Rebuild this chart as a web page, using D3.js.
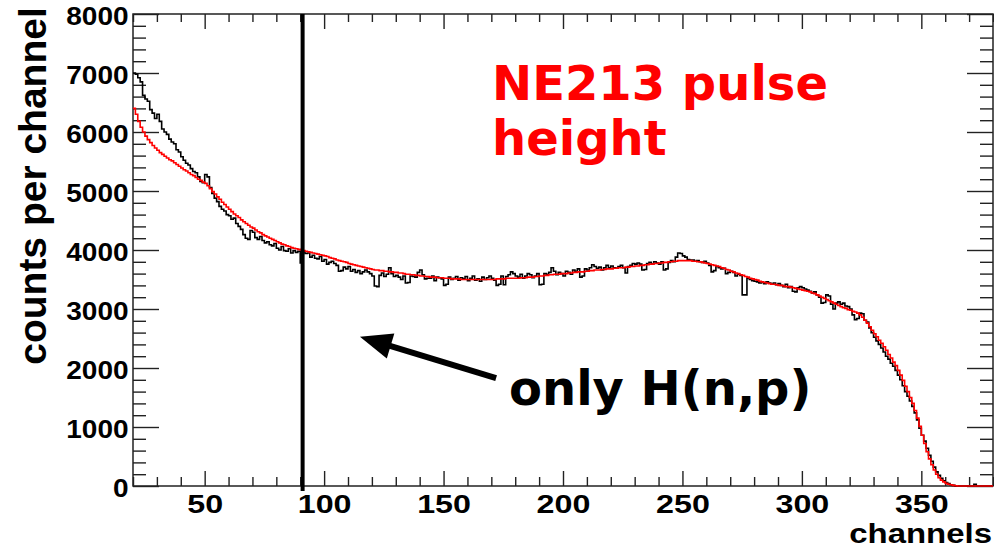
<!DOCTYPE html>
<html>
<head>
<meta charset="utf-8">
<script src="https://cdn.jsdelivr.net/npm/d3@7"></script>
<style>
  html, body { margin: 0; padding: 0; background: #fff; }
  svg { display: block; }
</style>
</head>
<body>
<div id="chart"></div>
<script>
// first channel of the histograms, one bin per channel
const firstChannel = 20;

// measured pulse height spectrum (black histogram), channels 20..379
const measured = [
  7000, 6980, 6920, 6850, 6620, 6560, 6520, 6380, 6320, 6230,
  6300, 6180, 6050, 6000, 5960, 5880, 5830, 5800, 5700, 5660,
  5580, 5520, 5470, 5440, 5380, 5330, 5310, 5240, 5160, 5140,
  5280, 5240, 5060, 4960, 4880, 4820, 4740, 4690, 4660, 4600,
  4580, 4520, 4540, 4450, 4400, 4350, 4260, 4200, 4180, 4330,
  4300, 4210, 4180, 4230, 4160, 4120, 4140, 4090, 4070, 4110,
  4030, 4000, 4060, 3990, 3980, 4020, 3950, 3990, 3960, 3980,
  3780, 3970, 3940, 3950, 3880, 3910, 3860, 3850, 3890, 3810,
  3840, 3760, 3790, 3810, 3770, 3740, 3640, 3650, 3710, 3680,
  3720, 3640, 3670, 3620, 3650, 3600, 3630, 3660, 3630, 3600,
  3560, 3390, 3380, 3570, 3610, 3550, 3590, 3700, 3600, 3550,
  3570, 3540, 3500, 3560, 3440, 3450, 3560, 3550, 3540, 3620,
  3660, 3580, 3510, 3520, 3520, 3560, 3480, 3540, 3530, 3510,
  3400, 3420, 3540, 3500, 3520, 3550, 3490, 3530, 3510, 3550,
  3480, 3520, 3560, 3490, 3510, 3470, 3540, 3500, 3530, 3560,
  3520, 3490, 3400, 3420, 3560, 3410, 3550, 3580, 3630, 3600,
  3560, 3540, 3590, 3520, 3560, 3600, 3580, 3530, 3560, 3600,
  3410, 3420, 3600, 3590, 3620, 3700, 3640, 3580, 3620, 3600,
  3560, 3640, 3620, 3590, 3660, 3640, 3680, 3540, 3560, 3680,
  3660, 3700, 3750, 3720, 3690, 3710, 3660, 3700, 3740, 3700,
  3730, 3700, 3690, 3720, 3740, 3700, 3610, 3720, 3740, 3770,
  3760, 3780, 3760, 3660, 3670, 3770, 3790, 3760, 3800, 3780,
  3760, 3800, 3660, 3680, 3790, 3820, 3800, 3880, 3950, 3940,
  3900, 3880, 3840, 3830, 3830, 3810, 3820, 3800, 3790, 3810,
  3780, 3740, 3630, 3650, 3720, 3700, 3680, 3690, 3600, 3620,
  3640, 3620, 3560, 3590, 3570, 3240, 3240, 3520, 3500, 3480,
  3470, 3460, 3440, 3450, 3430, 3460, 3440, 3420, 3440, 3410,
  3430, 3400, 3380, 3420, 3360, 3380, 3300, 3290, 3360, 3380,
  3360, 3340, 3320, 3300, 3270, 3290, 3240, 3200, 3100, 3110,
  3240, 3220, 3080, 3000, 3100, 3120, 3080, 3100, 3050, 3040,
  3000, 2900, 2820, 2840, 2930, 2920, 2810, 2780, 2680, 2600,
  2520, 2460, 2400, 2340, 2270, 2200, 2150, 2080, 2030, 1960,
  1880, 1800, 1700, 1600, 1520, 1440, 1350, 1240, 1120, 980,
  860, 760, 640, 520, 420, 320, 240, 180, 130, 90,
  60, 40, 20, 10, 0, 0, 0, 0, 0, 0,
  0, 0, 30, 0, 0, 0, 0, 0, 0, 0
];

// simulated spectrum, H(n,p) only (red histogram), channels 20..379
const simulated = [
  6400, 6300, 6180, 6080, 6000, 5930, 5870, 5820, 5770, 5730,
  5690, 5650, 5620, 5590, 5560, 5530, 5510, 5480, 5450, 5420,
  5390, 5360, 5340, 5310, 5280, 5260, 5230, 5200, 5180, 5150,
  5130, 5090, 5040, 4990, 4950, 4900, 4860, 4810, 4770, 4730,
  4690, 4650, 4610, 4580, 4550, 4510, 4480, 4450, 4420, 4390,
  4370, 4340, 4310, 4290, 4260, 4240, 4220, 4200, 4180, 4160,
  4140, 4120, 4100, 4090, 4070, 4060, 4040, 4030, 4020, 4010,
  4000, 3990, 3980, 3970, 3960, 3950, 3940, 3930, 3920, 3910,
  3900, 3890, 3870, 3860, 3850, 3830, 3820, 3810, 3800, 3790,
  3770, 3760, 3750, 3740, 3730, 3720, 3710, 3700, 3690, 3680,
  3670, 3660, 3660, 3650, 3650, 3640, 3640, 3630, 3630, 3620,
  3620, 3610, 3610, 3600, 3590, 3590, 3580, 3580, 3570, 3570,
  3560, 3560, 3550, 3550, 3540, 3540, 3540, 3530, 3530, 3530,
  3520, 3520, 3520, 3510, 3510, 3510, 3510, 3500, 3500, 3500,
  3500, 3500, 3500, 3500, 3500, 3500, 3500, 3500, 3500, 3500,
  3500, 3500, 3510, 3510, 3510, 3510, 3520, 3520, 3520, 3520,
  3520, 3520, 3530, 3530, 3530, 3540, 3540, 3540, 3550, 3550,
  3560, 3560, 3570, 3570, 3580, 3580, 3590, 3590, 3590, 3600,
  3600, 3600, 3610, 3610, 3620, 3620, 3630, 3630, 3630, 3640,
  3640, 3650, 3650, 3660, 3660, 3660, 3670, 3670, 3680, 3680,
  3680, 3690, 3690, 3700, 3700, 3700, 3710, 3710, 3720, 3720,
  3730, 3730, 3740, 3740, 3750, 3750, 3760, 3760, 3770, 3770,
  3780, 3780, 3790, 3790, 3800, 3800, 3810, 3810, 3820, 3820,
  3820, 3820, 3820, 3820, 3810, 3810, 3800, 3800, 3790, 3780,
  3770, 3760, 3750, 3740, 3730, 3720, 3700, 3690, 3670, 3660,
  3640, 3630, 3610, 3600, 3580, 3570, 3550, 3540, 3520, 3510,
  3500, 3490, 3470, 3460, 3450, 3440, 3430, 3420, 3420, 3410,
  3400, 3400, 3390, 3380, 3380, 3370, 3360, 3350, 3340, 3330,
  3320, 3310, 3300, 3290, 3270, 3260, 3240, 3220, 3200, 3180,
  3160, 3140, 3120, 3100, 3080, 3060, 3040, 3020, 3010, 2990,
  2980, 2960, 2950, 2930, 2900, 2860, 2810, 2760, 2700, 2640,
  2580, 2530, 2470, 2420, 2360, 2300, 2230, 2170, 2100, 2040,
  1960, 1880, 1790, 1690, 1600, 1500, 1400, 1280, 1150, 1010,
  860, 720, 580, 460, 360, 270, 200, 140, 100, 70,
  45, 30, 20, 10, 5, 0, 0, 0, 0, 0,
  0, 0, 0, 0, 0, 0, 0, 0, 0, 0
];

// axes
const xDomain = [20, 380];
const yDomain = [0, 8000];
const xMajorTicks = [50, 100, 150, 200, 250, 300, 350];
const yMajorTicks = [0, 1000, 2000, 3000, 4000, 5000, 6000, 7000, 8000];

// annotations (data units)
const cutChannel = 91;
const arrowTail = [172, 1830];
const arrowTip = [115, 2530];

var width = 994;
var height = 551;

var x = d3.scaleLinear().domain(xDomain).range([133, 993]);
var y = d3.scaleLinear().domain(yDomain).range([486, 14]);

var svg = d3.select("#chart").append("svg")
    .attr("width", width)
    .attr("height", height);

svg.append("defs").append("clipPath")
    .attr("id", "plot-clip")
  .append("rect")
    .attr("x", x(xDomain[0]))
    .attr("y", y(yDomain[1]) - 2)
    .attr("width", x(xDomain[1]) - x(xDomain[0]))
    .attr("height", y(0) - y(yDomain[1]) + 4);

var tickFont = "'Liberation Sans', Arial, Helvetica, sans-serif";
var minorX = d3.range(20, 381, 10).filter(v => v % 50 !== 0);
var minorY = d3.range(0, 8001, 200).filter(v => v % 1000 !== 0);

function styleAxis(g) {
  g.select(".domain").remove();
  g.selectAll("line").attr("stroke", "#222").attr("stroke-width", 1.4);
}

// bottom axis: majors with labels, then minors
svg.append("g")
    .attr("transform", `translate(0,${y(0)})`)
    .call(d3.axisBottom(x).tickValues(xMajorTicks).tickSizeInner(-15).tickSizeOuter(0).tickPadding(9))
    .call(styleAxis)
    .call(g => g.selectAll("text")
        .attr("fill", "#000")
        .style("font", `bold 26px ${tickFont}`)
        .attr("transform", "scale(1.24,1)"));
svg.append("g")
    .attr("transform", `translate(0,${y(0)})`)
    .call(d3.axisBottom(x).tickValues(minorX).tickSizeInner(-9).tickSizeOuter(0).tickFormat(""))
    .call(styleAxis);

// top axis ticks
svg.append("g")
    .attr("transform", `translate(0,${y(yDomain[1])})`)
    .call(d3.axisTop(x).tickValues(xMajorTicks).tickSizeInner(-15).tickSizeOuter(0).tickFormat(""))
    .call(styleAxis);
svg.append("g")
    .attr("transform", `translate(0,${y(yDomain[1])})`)
    .call(d3.axisTop(x).tickValues(minorX).tickSizeInner(-8).tickSizeOuter(0).tickFormat(""))
    .call(styleAxis);

// left axis
svg.append("g")
    .attr("transform", `translate(${x(xDomain[0])},0)`)
    .call(d3.axisLeft(y).tickValues(yMajorTicks).tickSizeInner(-26).tickSizeOuter(0).tickPadding(4).tickFormat(d3.format("d")))
    .call(styleAxis)
    .call(g => g.selectAll("text")
        .attr("fill", "#000")
        .attr("dy", "0.42em")
        .style("font", `bold 25px ${tickFont}`)
        .attr("transform", "scale(1.12,1)"));
svg.append("g")
    .attr("transform", `translate(${x(xDomain[0])},0)`)
    .call(d3.axisLeft(y).tickValues(minorY).tickSizeInner(-13).tickSizeOuter(0).tickFormat(""))
    .call(styleAxis);

// right axis ticks
svg.append("g")
    .attr("transform", `translate(${x(xDomain[1])},0)`)
    .call(d3.axisRight(y).tickValues(yMajorTicks).tickSizeInner(-26).tickSizeOuter(0).tickFormat(""))
    .call(styleAxis);
svg.append("g")
    .attr("transform", `translate(${x(xDomain[1])},0)`)
    .call(d3.axisRight(y).tickValues(minorY).tickSizeInner(-13).tickSizeOuter(0).tickFormat(""))
    .call(styleAxis);

// frame
svg.append("rect")
    .attr("x", x(xDomain[0]))
    .attr("y", y(yDomain[1]))
    .attr("width", x(xDomain[1]) - x(xDomain[0]))
    .attr("height", y(0) - y(yDomain[1]))
    .attr("fill", "none")
    .attr("stroke", "#222")
    .attr("stroke-width", 1.5);

// histograms drawn as step outlines
var stepLine = d3.line()
    .x(d => x(d[0]))
    .y(d => y(d[1]))
    .curve(d3.curveStepAfter);

function binPoints(vals) {
  var pts = vals.map((v, i) => [firstChannel + i, v]);
  pts.push([firstChannel + vals.length, vals[vals.length - 1]]);
  return pts;
}

var plot = svg.append("g").attr("clip-path", "url(#plot-clip)");

plot.append("path")
    .datum(binPoints(measured))
    .attr("fill", "none")
    .attr("stroke", "#000")
    .attr("stroke-width", 1.6)
    .attr("d", stepLine);

plot.append("path")
    .datum(binPoints(simulated))
    .attr("fill", "none")
    .attr("stroke", "#ff0000")
    .attr("stroke-width", 1.6)
    .attr("d", stepLine);

// cut line
svg.append("line")
    .attr("x1", x(cutChannel))
    .attr("x2", x(cutChannel))
    .attr("y1", y(yDomain[1]))
    .attr("y2", y(0) + 5)
    .attr("stroke", "#000")
    .attr("stroke-width", 4);

// axis titles
svg.append("text")
    .attr("transform", "translate(46,186) rotate(-90)")
    .attr("text-anchor", "middle")
    .style("font", `bold 39px ${tickFont}`)
    .text("counts per channel");

svg.append("text")
    .attr("transform", "translate(992,543) scale(1.22,1)")
    .attr("text-anchor", "end")
    .style("font", `bold 27px ${tickFont}`)
    .text("channels");

// annotations
var noteFont = "'DejaVu Sans', Verdana, sans-serif";
var red = svg.append("text")
    .attr("fill", "#ff0000")
    .style("font", `bold 48px ${noteFont}`);
red.append("tspan").attr("x", 492).attr("y", 100).text("NE213 pulse");
red.append("tspan").attr("x", 492).attr("y", 155).text("height");

svg.append("text")
    .attr("x", 509)
    .attr("y", 405)
    .attr("fill", "#000")
    .style("font", `bold 48px ${noteFont}`)
    .text("only H(n,p)");

// arrow pointing at the spectrum
var tx = x(arrowTail[0]), ty = y(arrowTail[1]);
var hx = x(arrowTip[0]), hy = y(arrowTip[1]);
var ang = Math.atan2(hy - ty, hx - tx);
var headLen = 32, headHalf = 13;
var bx = hx - headLen * Math.cos(ang), by = hy - headLen * Math.sin(ang);

svg.append("line")
    .attr("x1", tx).attr("y1", ty)
    .attr("x2", bx + 4 * Math.cos(ang)).attr("y2", by + 4 * Math.sin(ang))
    .attr("stroke", "#000")
    .attr("stroke-width", 6);

svg.append("path")
    .attr("d", d3.line()([
      [hx, hy],
      [bx - headHalf * Math.sin(ang), by + headHalf * Math.cos(ang)],
      [bx + headHalf * Math.sin(ang), by - headHalf * Math.cos(ang)]
    ]) + "Z")
    .attr("fill", "#000");
</script>
</body>
</html>
